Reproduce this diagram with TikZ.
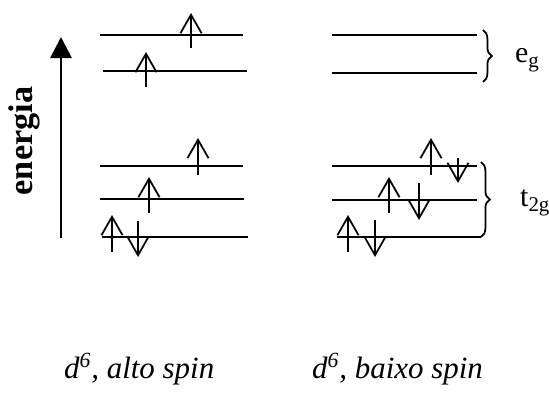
\documentclass[tikz,border=0pt]{standalone}
\usepackage{fontspec}
\setmainfont{Liberation Serif}
\usetikzlibrary{arrows.meta, decorations.pathreplacing}

\begin{document}
\begin{tikzpicture}[
        x=0.02cm, y=-0.02cm,
        level/.style={line width=1.1pt},
        spin/.style={line width=1pt, -{Straight Barb[length=10.5pt, width=12pt, line width=1pt]}},
        energy/.style={line width=1.6pt, -{Triangle[length=12pt, width=12pt]}},
        brc/.style={line width=1pt, decorate, decoration={brace, amplitude=5pt}},
        lbl/.style={font=\fontsize{17}{19}\selectfont, anchor=base west},
        config/.style={font=\itshape\fontsize{17.6}{20}\selectfont, anchor=base west}
    ]
        \useasboundingbox (0,0) rectangle (549,398);

        % Energy axis
        \coordinate (e0) at (61,238);
        \coordinate (e1) at (61,37);
        \draw[energy] (e0) -- (e1);
        \node[rotate=90, font=\bfseries\fontsize{19.5}{22}\selectfont] (energia) at (24,141) {energia};

        % High spin levels
        \draw[level] (100,35) -- (243,35);
        \draw[level] (103,71) -- (247,71);
        \draw[level] (100,166) -- (243,166);
        \draw[level] (100,199) -- (244,199);
        \draw[level] (102,237) -- (248,237);

        % High spin electrons
        \draw[spin] (191,48) -- (191,13);
        \draw[spin] (146,87) -- (146,52);
        \draw[spin] (198,175) -- (198,138);
        \draw[spin] (149,213) -- (149,177);
        \draw[spin] (112,252) -- (112,215);
        \draw[spin] (138,221) -- (138,257);

        % Low spin levels
        \draw[level] (332,35) -- (477,35);
        \draw[level] (332,73) -- (477,73);
        \draw[level] (332,166) -- (477,166);
        \draw[level] (332,200) -- (477,200);
        \draw[level] (337,237) -- (481,237);

        % Low spin electrons
        \draw[spin] (431,175) -- (431,138);
        \draw[spin] (458,158) -- (458,183);
        \draw[spin] (389,213) -- (389,177);
        \draw[spin] (419,183) -- (419,220);
        \draw[spin] (348,252) -- (348,215);
        \draw[spin] (375,220) -- (375,257);

        % Braces
        \draw[brc] (483,30) -- (483,82);
        \draw[brc] (481,162) -- (481,237);
        \node[lbl] (eg) at (509,63) {e\textsubscript{g}};
        \node[lbl] (t2g) at (514,207) {t\textsubscript{2g}};

        % Configurations
        \node[config] (hs) at (58,379) {d\textsuperscript{6}, alto spin};
        \node[config] (ls) at (306,379) {d\textsuperscript{6}, baixo spin};
\end{tikzpicture}
\end{document}
